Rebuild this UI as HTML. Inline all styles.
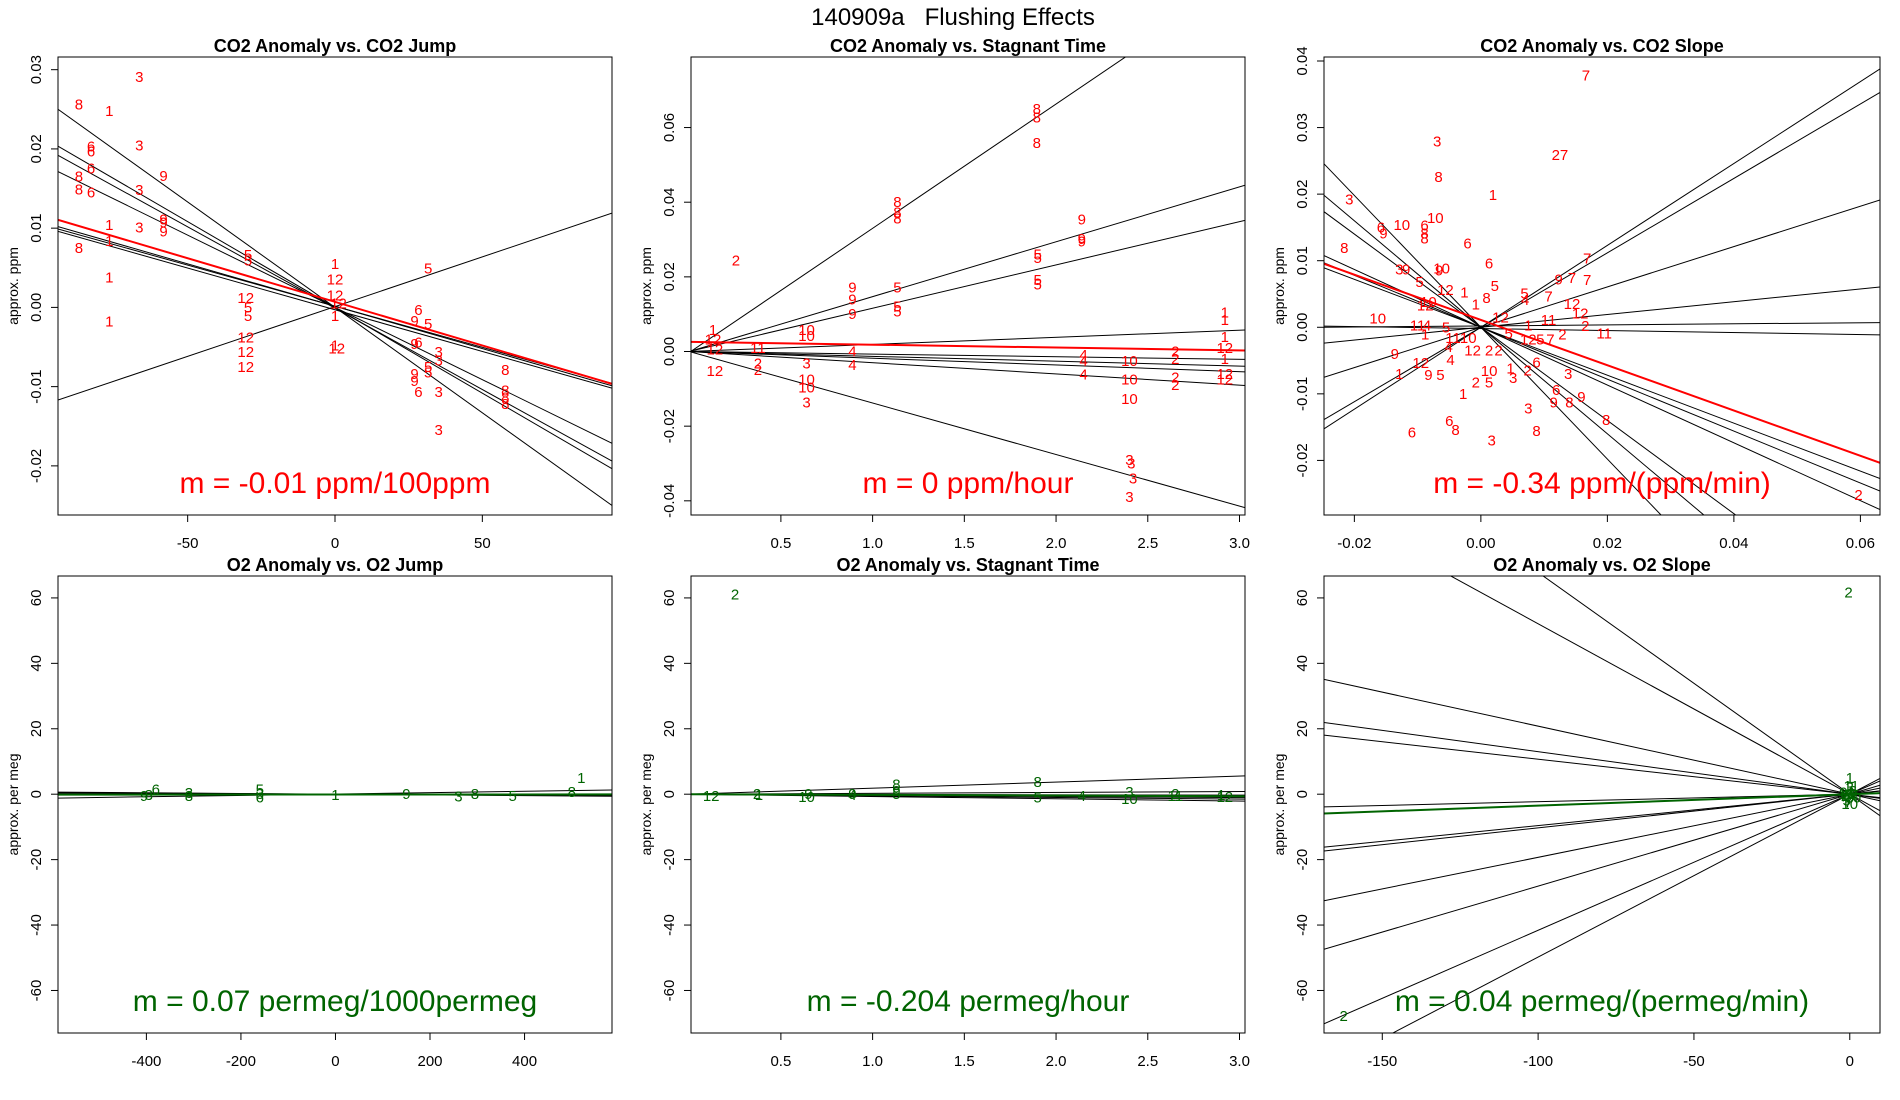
<!DOCTYPE html>
<html><head><meta charset="utf-8">
<style>
html,body{margin:0;padding:0;background:#fff;}
svg{display:block;font-family:"Liberation Sans",Arial,sans-serif;}
</style></head>
<body>
<svg id="fig" width="1900" height="1100" viewBox="0 0 1900 1100" xmlns="http://www.w3.org/2000/svg">
<rect width="1900" height="1100" fill="#fff"/>
<text x="953" y="25" text-anchor="middle" font-size="24" style="white-space:pre">140909a   Flushing Effects</text>
</svg>
<script>
// ---------- Panel 1: CO2 Anomaly vs CO2 Jump ----------
const p1Labels=['8','1','3','6','6','6','8','8','6','3','9','3','1','1','9','9','9','3','8','1','1','5','5','12','5','5','12','12','12','1','12','12','12','1','1','12','5','6','9','5','9','6','3','3','5','5','9','9','6','3','8','8','8','8','3'];
const p1X=[-86.9,-76.6,-66.4,-82.8,-82.8,-82.8,-86.9,-86.9,-82.8,-66.4,-58.2,-66.4,-76.6,-76.6,-58.2,-58.2,-58.2,-66.4,-86.9,-76.6,-76.6,-29.5,-29.5,-30.3,-29.5,-29.5,-30.3,-30.3,-30.3,0,0,0,1.2,0,0,0.6,31.6,28.3,27,31.6,27,28.3,35.2,35.2,31.6,31.6,27,27,28.3,35.2,57.8,57.8,57.8,57.8,35.2];
const p1Y=[0.0256,0.0248,0.0291,0.0203,0.0197,0.0175,0.0165,0.0149,0.0145,0.0204,0.0166,0.0148,0.0104,0.0084,0.0111,0.0107,0.0096,0.0101,0.0075,0.0038,-0.0018,0.0066,0.0059,0.0012,0,-0.0011,-0.0038,-0.0056,-0.0075,0.0055,0.0035,0.0015,0.0005,-0.0011,-0.0048,-0.0052,0.0049,-0.0003,-0.0017,-0.0021,-0.0046,-0.0044,-0.0056,-0.0067,-0.0075,-0.0082,-0.0084,-0.0093,-0.0107,-0.0107,-0.0079,-0.0105,-0.0114,-0.0122,-0.0155];
const p1LineA=[0,0,-0.0001,0,0.00015,0.00015,-0.0003,0.0001];
const p1LineB=[-0.000266,-0.0002165,-0.0002053,-0.0001824,-0.0001069,-0.0001037,-0.0001053,0.0001255];
const p1FitA=0.0007, p1FitB=-0.0001101;
const p1XTicks=[-50,0,50];
const p1XTickLabels=['-50','0','50'];
const p1YTicks=[-0.02,-0.01,0,0.01,0.02,0.03];
const p1YTickLabels=['-0.02','-0.01','0.00','0.01','0.02','0.03'];

// ---------- Panel 2: CO2 Anomaly vs Stagnant Time ----------
const p2Labels=['2','1','12','12','12','11','2','2','10','10','3','10','10','3','9','9','9','4','4','5','5','5','8','8','8','8','8','8','5','5','5','5','9','9','9','4','4','4','10','10','10','3','3','3','3','2','2','2','2','1','1','1','12','1','12','12'];
const p2X=[0.255,0.13,0.13,0.14,0.14,0.375,0.375,0.375,0.64,0.64,0.64,0.64,0.64,0.64,0.89,0.89,0.89,0.89,0.89,1.135,1.135,1.135,1.135,1.135,1.135,1.895,1.895,1.895,1.9,1.9,1.9,1.9,2.14,2.14,2.14,2.15,2.15,2.15,2.4,2.4,2.4,2.4,2.41,2.42,2.4,2.65,2.65,2.65,2.65,2.92,2.92,2.92,2.92,2.92,2.92,2.92];
const p2Y=[0.0244,0.0058,0.0032,0.0006,-0.0052,0.001,-0.0032,-0.0049,0.0058,0.0042,-0.0032,-0.0075,-0.0097,-0.0136,0.0172,0.014,0.0101,0,-0.0036,0.0172,0.012,0.0107,0.04,0.0373,0.0357,0.065,0.0627,0.0558,0.026,0.025,0.0192,0.0179,0.0354,0.0302,0.0295,-0.001,-0.0026,-0.0062,-0.0026,-0.0075,-0.0127,-0.029,-0.030,-0.034,-0.039,0,-0.002,-0.007,-0.009,0.0104,0.0084,0.0039,0.001,-0.002,-0.006,-0.0075];
const p2LineA=[-0.0003,0,0,0,0,0,0,0,0];
const p2LineB=[0.0333,0.0147,0.0116,0.0019,-0.0007,-0.0013,-0.0018,-0.003,-0.0138];
const p2FitA=0.0026, p2FitB=-0.00077;
const p2XTicks=[0.5,1.0,1.5,2.0,2.5,3.0];
const p2XTickLabels=['0.5','1.0','1.5','2.0','2.5','3.0'];
const p2YTicks=[-0.04,-0.02,0,0.02,0.04,0.06];
const p2YTickLabels=['-0.04','-0.02','0.00','0.02','0.04','0.06'];

// ---------- Panel 3: CO2 Anomaly vs CO2 Slope ----------
const p3Labels=['7','3','27','8','1','3','6','9','10','6','10','8','8','6','8','6','7','3','9','9','10','9','7','7','5','12','1','5','8','1','5','4','7','12','12','10','11','2','11','10','12','11','4','1','5','11','10','12','1','5','12','5','7','2','9','4','12','2','2','4','12','6','1','9','5','10','1','3','2','3','2','5','1','6','9','8','9','3','8','6','8','6','8','3','2'];
const p3X=[0.0166,-0.0069,0.0125,-0.0067,0.0019,-0.0208,-0.0158,-0.0154,-0.0125,-0.0089,-0.0072,-0.0089,-0.0089,-0.0021,-0.0216,0.0013,0.0168,-0.0129,-0.0118,-0.0066,-0.0062,0.0123,0.0144,0.0168,-0.0097,-0.0056,-0.0026,0.0022,0.0009,-0.0008,0.0069,0.007,0.0107,0.0144,0.0157,-0.0163,0.0107,0.0165,0.0195,-0.0083,-0.0088,-0.01,-0.0085,-0.0088,-0.0055,-0.0044,-0.002,0.0031,0.0075,0.0044,0.0075,0.0094,0.011,0.0129,-0.0136,-0.0051,-0.0013,0.0013,0.0028,-0.0048,-0.0095,0.0088,-0.0129,-0.0083,-0.0064,0.0013,0.0047,0.0051,0.0074,0.0138,-0.0008,0.0013,-0.0028,0.0119,0.0115,0.014,0.0159,0.0075,0.0198,-0.005,-0.004,-0.0109,0.0088,0.0017,0.0597];
const p3Y=[0.0378,0.0279,0.0259,0.0226,0.0199,0.0192,0.015,0.0141,0.0154,0.0153,0.0164,0.0141,0.0133,0.0126,0.0119,0.0096,0.0103,0.0087,0.0087,0.0085,0.0088,0.0072,0.0074,0.0071,0.0068,0.0056,0.0052,0.0062,0.0044,0.0034,0.0051,0.0041,0.0046,0.0035,0.0021,0.0013,0.0011,0.0002,-0.0009,0.0038,0.0033,0.0003,0.0003,-0.0011,0,-0.0016,-0.0016,0.0015,0.0003,-0.0009,-0.0018,-0.0018,-0.0018,-0.0011,-0.004,-0.003,-0.0035,-0.0035,-0.0035,-0.0049,-0.0054,-0.0053,-0.007,-0.0072,-0.0072,-0.0066,-0.0062,-0.0076,-0.0065,-0.007,-0.0083,-0.0083,-0.01,-0.0094,-0.0113,-0.0113,-0.0105,-0.0122,-0.0139,-0.0141,-0.0154,-0.0158,-0.0156,-0.017,-0.0252];
const p3LineA=[0,0,0,0,0.0002,-0.0002,0,0,0,0,0,0];
const p3LineB=[0.615,0.559,0.303,0.096,0.008,-0.015,-0.36,-0.39,-0.434,-0.99,-0.80,-0.70];
const p3FitA=0.0011, p3FitB=-0.34;
const p3XTicks=[-0.02,0,0.02,0.04,0.06];
const p3XTickLabels=['-0.02','0.00','0.02','0.04','0.06'];
const p3YTicks=[-0.02,-0.01,0,0.01,0.02,0.03,0.04];
const p3YTickLabels=['-0.02','-0.01','0.00','0.01','0.02','0.03','0.04'];

// ---------- Panel 4: O2 Anomaly vs O2 Jump ----------
const p4Labels=['9','3','6','3','8','5','3','6','1','9','3','8','5','8','1'];
const p4X=[-405,-395,-380,-310,-310,-160,-160,-160,0,150,260,295,375,500,520];
const p4Y=[-0.5,-0.3,1.5,0.3,-0.5,1.5,0,-1,-0.3,0,-0.7,0,-0.5,0.7,5];
const p4LineA=[0,0.05,0,0];
const p4LineB=[-0.00085,0.0021,-0.0005,-0.0011];
const p4FitA=-0.1, p4FitB=0.00007;
const p4XTicks=[-400,-200,0,200,400];
const p4XTickLabels=['-400','-200','0','200','400'];
const bYTicks=[-60,-40,-20,0,20,40,60];
const bYTickLabels=['-60','-40','-20','0','20','40','60'];

// ---------- Panel 5: O2 Anomaly vs Stagnant Time ----------
const p5Labels=['12','2','2','1','10','9','4','9','8','5','9','8','5','4','10','3','11','2','12','1'];
const p5X=[0.12,0.25,0.37,0.38,0.64,0.65,0.89,0.89,1.13,1.13,1.13,1.9,1.9,2.14,2.4,2.4,2.65,2.65,2.92,2.9];
const p5Y=[-0.5,61,0,-0.3,-0.8,0,-0.3,0,3,0,1,3.8,-1,-0.6,-1.5,0.6,-0.6,0,-0.8,-0.3];
const p5LineA=[0,0,0,0,0,0];
const p5LineB=[1.85,0.27,-0.1,-0.35,-0.5,-0.7];
const p5FitA=0, p5FitB=-0.204;

// ---------- Panel 6: O2 Anomaly vs O2 Slope ----------
const p6Labels=['1','2','2','12','10','3','5','6','8','9','4','11','7','10','1','2'];
const p6X=[0,-0.4,-162.4,-1,1,0,-1,1,0,-2,1.5,0.5,-0.5,0,0.5,-1.5];
const p6Y=[5,61.6,-67.8,0,-1,2,-2,1,-1,0.5,-0.5,2.5,-2.5,-3,0.5,-0.5];
const p6LineA=[0,0,0,0,0,0,0,0,0,0,0,0];
const p6LineB=[-0.521,-0.678,-0.208,-0.130,-0.107,0.023,0.096,0.103,0.193,0.281,0.416,0.498];
const p6FitA=0, p6FitB=0.035;
const p6XTicks=[-150,-100,-50,0];
const p6XTickLabels=['-150','-100','-50','0'];

const NS='http://www.w3.org/2000/svg';
const svgEl=document.getElementById('fig');
function mk(tag,attrs,parent){const e=document.createElementNS(NS,tag);for(const k in attrs)e.setAttribute(k,attrs[k]);(parent||svgEl).appendChild(e);return e;}

function panel(cfg){
  const {id,L,R,T,B,xd,yd,title,ylab,color,mtext,xt,xtl,yt,ytl,lab,px,py,la,lb,fa,fb}=cfg;
  const g=mk('g',{});
  
  
  const sx=v=>L+(v-xd[0])/(xd[1]-xd[0])*(R-L);
  const sy=v=>B-(v-yd[0])/(yd[1]-yd[0])*(B-T);
  const cp=mk('clipPath',{id:'clip-'+id},g);
  mk('rect',{x:L,y:T,width:R-L,height:B-T},cp);
  const t=mk('text',{x:(L+R)/2,y:T-5,'text-anchor':'middle','font-size':18,'font-weight':'bold'},g);
  t.textContent=title;
  
  
  const lg=mk('g',{'clip-path':'url(#clip-'+id+')'},g);
  for(let i=0;i<la.length;i++){
    const ln=mk('line',{x1:sx(xd[0]),y1:sy(la[i]+lb[i]*xd[0]),x2:sx(xd[1]),y2:sy(la[i]+lb[i]*xd[1]),stroke:'#000','stroke-width':1},lg);
    
    
  }
  const fl=mk('line',{x1:sx(xd[0]),y1:sy(fa+fb*xd[0]),x2:sx(xd[1]),y2:sy(fa+fb*xd[1]),stroke:color,'stroke-width':2},lg);
  
  
  for(let i=0;i<lab.length;i++){
    const tx=mk('text',{x:sx(px[i]),y:sy(py[i])+5,'text-anchor':'middle','font-size':15,fill:color},lg);
    tx.textContent=lab[i];
    
    
  }
  const box=mk('rect',{x:L,y:T,width:R-L,height:B-T,fill:'none',stroke:'#000','stroke-width':1},g);
  
  
  mk('line',{x1:sx(xt[0]),y1:B,x2:sx(xt[xt.length-1]),y2:B,stroke:'#000'},g);
  xt.forEach((v,i)=>{
    mk('line',{x1:sx(v),y1:B,x2:sx(v),y2:B+7,stroke:'#000'},g);
    const tl=mk('text',{x:sx(v),y:B+33,'text-anchor':'middle','font-size':15},g);
    tl.textContent=xtl[i];
    
    
  });
  mk('line',{x1:L,y1:sy(yt[0]),x2:L,y2:sy(yt[yt.length-1]),stroke:'#000'},g);
  yt.forEach((v,i)=>{
    mk('line',{x1:L,y1:sy(v),x2:L-7,y2:sy(v),stroke:'#000'},g);
    const tl=mk('text',{x:L-17,y:sy(v),'text-anchor':'middle','font-size':15,transform:`rotate(-90 ${L-17} ${sy(v)})`},g);
    tl.textContent=ytl[i];
    
    
  });
  const yl=mk('text',{x:L-40,y:(T+B)/2,'text-anchor':'middle','font-size':14,transform:`rotate(-90 ${L-40} ${(T+B)/2})`},g);
  yl.textContent=ylab;
  
  
  const m=mk('text',{x:(L+R)/2,y:B-22,'text-anchor':'middle','font-size':30,fill:color},g);
  m.textContent=mtext;
  
  
}
const RED='#ff0000', GRN='#006400';
const cols=[[58,612],[691,1245],[1324,1880]];
const rowTopY=[57,515], rowBotY=[576,1033];
panel({id:'co2-jump-panel',L:cols[0][0],R:cols[0][1],T:rowTopY[0],B:rowTopY[1],xd:[-94,94],yd:[-0.0262,0.0316],title:'CO2 Anomaly vs. CO2 Jump',ylab:'approx. ppm',color:RED,mtext:'m = -0.01 ppm/100ppm',xt:p1XTicks,xtl:p1XTickLabels,yt:p1YTicks,ytl:p1YTickLabels,lab:p1Labels,px:p1X,py:p1Y,la:p1LineA,lb:p1LineB,fa:p1FitA,fb:p1FitB});
panel({id:'co2-stagnant-panel',L:cols[1][0],R:cols[1][1],T:rowTopY[0],B:rowTopY[1],xd:[0.01,3.03],yd:[-0.0438,0.0789],title:'CO2 Anomaly vs. Stagnant Time',ylab:'approx. ppm',color:RED,mtext:'m = 0 ppm/hour',xt:p2XTicks,xtl:p2XTickLabels,yt:p2YTicks,ytl:p2YTickLabels,lab:p2Labels,px:p2X,py:p2Y,la:p2LineA,lb:p2LineB,fa:p2FitA,fb:p2FitB});
panel({id:'co2-slope-panel',L:cols[2][0],R:cols[2][1],T:rowTopY[0],B:rowTopY[1],xd:[-0.0248,0.0631],yd:[-0.0282,0.0406],title:'CO2 Anomaly vs. CO2 Slope',ylab:'approx. ppm',color:RED,mtext:'m = -0.34 ppm/(ppm/min)',xt:p3XTicks,xtl:p3XTickLabels,yt:p3YTicks,ytl:p3YTickLabels,lab:p3Labels,px:p3X,py:p3Y,la:p3LineA,lb:p3LineB,fa:p3FitA,fb:p3FitB});
panel({id:'o2-jump-panel',L:cols[0][0],R:cols[0][1],T:rowBotY[0],B:rowBotY[1],xd:[-587,585],yd:[-73,66.7],title:'O2 Anomaly vs. O2 Jump',ylab:'approx. per meg',color:GRN,mtext:'m = 0.07 permeg/1000permeg',xt:p4XTicks,xtl:p4XTickLabels,yt:bYTicks,ytl:bYTickLabels,lab:p4Labels,px:p4X,py:p4Y,la:p4LineA,lb:p4LineB,fa:p4FitA,fb:p4FitB});
panel({id:'o2-stagnant-panel',L:cols[1][0],R:cols[1][1],T:rowBotY[0],B:rowBotY[1],xd:[0.01,3.03],yd:[-73,66.7],title:'O2 Anomaly vs. Stagnant Time',ylab:'approx. per meg',color:GRN,mtext:'m = -0.204 permeg/hour',xt:p2XTicks,xtl:p2XTickLabels,yt:bYTicks,ytl:bYTickLabels,lab:p5Labels,px:p5X,py:p5Y,la:p5LineA,lb:p5LineB,fa:p5FitA,fb:p5FitB});
panel({id:'o2-slope-panel',L:cols[2][0],R:cols[2][1],T:rowBotY[0],B:rowBotY[1],xd:[-168.7,9.7],yd:[-73,66.7],title:'O2 Anomaly vs. O2 Slope',ylab:'approx. per meg',color:GRN,mtext:'m = 0.04 permeg/(permeg/min)',xt:p6XTicks,xtl:p6XTickLabels,yt:bYTicks,ytl:bYTickLabels,lab:p6Labels,px:p6X,py:p6Y,la:p6LineA,lb:p6LineB,fa:p6FitA,fb:p6FitB});
</script>
</body></html>
